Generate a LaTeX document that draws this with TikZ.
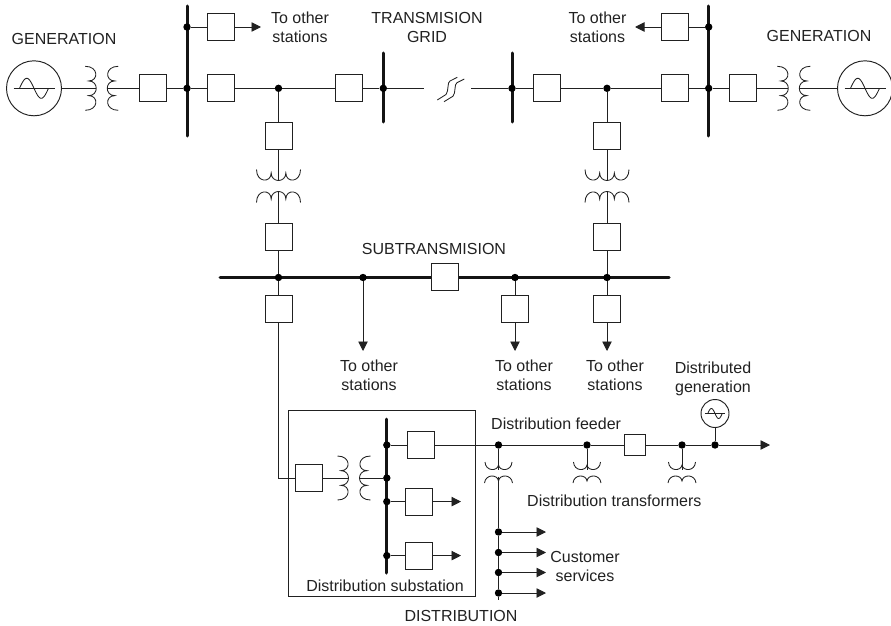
\documentclass[tikz,border=0pt]{standalone}
\usepackage{fontspec}
\setmainfont{Liberation Sans}
\usetikzlibrary{arrows.meta}
\definecolor{ink}{gray}{0.13}
\tikzset{
  x=1pt,y=-1pt,
  wire/.style={draw=ink,line width=0.95pt},
  feed/.style={wire,-{Triangle[length=9.5pt,width=9.5pt]}},
  bus/.style={draw=ink!60!black,line width=3pt,line cap=round},
  cb/.style={draw=ink,line width=0.95pt,fill=white,minimum size=27pt,inner sep=0pt},
  smallcb/.style={cb,minimum size=21pt},
  dot/.style={circle,fill=black,inner sep=0pt,minimum size=7.4pt},
  gensym/.style={circle,draw=ink,line width=0.95pt,inner sep=0pt,minimum size=55pt},
  dgsym/.style={gensym,minimum size=28pt},
  lab/.style={font=\fontsize{16}{19}\selectfont,text=ink,inner sep=0pt,align=center},
  trafo/.pic={
    \draw[draw=ink,line width=0.85pt]
      (-16.5,-22) .. controls (-3,-22) and (-3,-7.33) .. (-13,-7.33)
      .. controls (-3,-7.33) and (-3,7.33) .. (-13,7.33)
      .. controls (-3,7.33) and (-3,22) .. (-16.5,22);
    \draw[draw=ink,line width=0.85pt]
      (16.5,-22) .. controls (3,-22) and (3,-7.33) .. (13,-7.33)
      .. controls (3,-7.33) and (3,7.33) .. (13,7.33)
      .. controls (3,7.33) and (3,22) .. (16.5,22);
    \coordinate (-l) at (-5.5,0);
    \coordinate (-r) at (5.5,0);
  },
  smalltrafo/.pic={
    \draw[draw=ink,line width=0.85pt]
      (-13.5,-11) .. controls (-13,-1.5) and (-1,-1.5) .. (0,-8)
      .. controls (1,-1.5) and (13,-1.5) .. (13.5,-11);
    \draw[draw=ink,line width=0.85pt]
      (-14,10) .. controls (-13,1) and (-1,1) .. (0,8)
      .. controls (1,1) and (13,1) .. (14,10);
    \coordinate (-l) at (0,-3);
    \coordinate (-r) at (0,3.5);
  },
  sine/.pic={
    \draw[draw=ink,line width=0.85pt] (-20.5,0) -- (20.5,0);
    \draw[draw=ink,line width=0.85pt,smooth] plot[domain=-14.5:14.5,samples=41] (\x,{-10*sin((\x+14.5)*360/29)});
  },
}
\begin{document}
\begin{tikzpicture}
\useasboundingbox (0,0) rectangle (891,626);

% substation frame
\node[draw=ink,line width=0.95pt,minimum width=187pt,minimum height=186pt,inner sep=0pt] (frame) at (381.5,503) {};

% buses
\coordinate (bAt) at (187,6); \coordinate (bAb) at (187,136);
\coordinate (bBt) at (383.3,53); \coordinate (bBb) at (383.3,122);
\coordinate (bCt) at (512,53); \coordinate (bCb) at (512,122);
\coordinate (bDt) at (708.7,6); \coordinate (bDb) at (708.7,136);
\coordinate (bSl) at (220,277.5); \coordinate (bSr) at (669,277.5);
\coordinate (bTt) at (386.8,419); \coordinate (bTb) at (386.8,573);
\foreach \a/\b in {bAt/bAb,bBt/bBb,bCt/bCb,bDt/bDb,bSl/bSr,bTt/bTb}
  \draw[bus] (\a) -- (\b);

% generators
\node[gensym] (genL) at (34,88.3) {};
\node[gensym] (genR) at (865,88.3) {};
\pic at (genL) {sine};
\pic at (genR) {sine};

% transformers
\pic (tL) at (101.75,88.3) {trafo};
\pic (tR) at (793.8,88.3) {trafo};
\pic[rotate=-90] (tA) at (278.5,186) {trafo};
\pic[rotate=-90] (tB) at (607,186) {trafo};
\pic (tS) at (354,478) {trafo};
\pic (td1) at (498.5,473) {smalltrafo};
\pic (td2) at (587,473) {smalltrafo};
\pic (td3) at (682,473) {smalltrafo};

% dots
\node[dot] (dA1) at (187,27) {};
\node[dot] (dA2) at (187,88.3) {};
\node[dot] (dE) at (278.5,88.3) {};
\node[dot] (dB) at (383.3,88.3) {};
\node[dot] (dC) at (512,88.3) {};
\node[dot] (dF) at (607,88.3) {};
\node[dot] (dD1) at (708.7,27) {};
\node[dot] (dD2) at (708.7,88.3) {};
\node[dot] (dS1) at (278.5,277.5) {};
\node[dot] (dS2) at (363,277.5) {};
\node[dot] (dS3) at (515,277.5) {};
\node[dot] (dS4) at (607,277.5) {};
\node[dot] (dT1) at (386.8,445) {};
\node[dot] (dT2) at (386.8,478) {};
\node[dot] (dT3) at (386.8,501.6) {};
\node[dot] (dT4) at (386.8,555.6) {};
\node[dot] (dF1) at (498.5,445) {};
\node[dot] (dF2) at (587,445) {};
\node[dot] (dF3) at (682,445) {};
\node[dot] (dF4) at (715,445) {};
\node[dot] (dC1) at (498.5,532) {};
\node[dot] (dC2) at (498.5,552.5) {};
\node[dot] (dC3) at (498.5,572.5) {};
\node[dot] (dC4) at (498.5,593) {};

% breakers
\node[cb] (c1) at (153,88.3) {};
\node[cb] (c2) at (220.5,27) {};
\node[cb] (c3) at (221,88.3) {};
\node[cb] (c4) at (349,88.3) {};
\node[cb] (c5) at (546.5,88.3) {};
\node[cb] (c6) at (675,88.3) {};
\node[cb] (c7) at (674.5,27) {};
\node[cb] (c8) at (742.5,88.3) {};
\node[cb] (c9) at (278.5,135.5) {};
\node[cb] (c10) at (607,135.5) {};
\node[cb] (c11) at (278.5,236.5) {};
\node[cb] (c12) at (607,236.5) {};
\node[cb] (c13) at (444.5,277) {};
\node[cb] (c14) at (278.5,308.5) {};
\node[cb] (c15) at (515,309) {};
\node[cb] (c16) at (607,309) {};
\node[cb] (c17) at (308.5,478) {};
\node[cb] (c18) at (420.5,445) {};
\node[cb] (c19) at (419,501.6) {};
\node[cb] (c20) at (419,555.6) {};
\node[smallcb] (c21) at (634.5,445) {};

% small generator
\node[dgsym] (dg) at (715,413.5) {};
\pic[scale=0.5] at (dg) {sine};

% free arrow ends and break ends
\coordinate (eA) at (261,27);
\coordinate (eD) at (635,27);
\coordinate (eS2) at (363,351);
\coordinate (eS3) at (515,351);
\coordinate (eS4) at (607,351);
\coordinate (eT3) at (461,501.6);
\coordinate (eT4) at (461,555.6);
\coordinate (eF) at (770,445);
\coordinate (eC1) at (546,532);
\coordinate (eC2) at (546,552.5);
\coordinate (eC3) at (546,572.5);
\coordinate (eC4) at (546,593);
\coordinate (eC) at (498.5,600);
\coordinate (brL) at (424,88.3);
\coordinate (brR) at (471,88.3);

% connectors
\draw[wire] (genL) -- (tL-l);
\draw[wire] (tL-r) -- (c1);
\draw[wire] (c1) -- (dA2);
\draw[wire] (dA2) -- (c3);
\draw[wire] (c3) -- (dE);
\draw[wire] (dE) -- (c4);
\draw[wire] (c4) -- (dB);
\draw[wire] (dB) -- (brL);
\draw[wire] (brR) -- (dC);
\draw[wire] (dC) -- (c5);
\draw[wire] (c5) -- (dF);
\draw[wire] (dF) -- (c6);
\draw[wire] (c6) -- (dD2);
\draw[wire] (dD2) -- (c8);
\draw[wire] (c8) -- (tR-l);
\draw[wire] (tR-r) -- (genR);
\draw[wire] (dA1) -- (c2);
\draw[feed] (c2) -- (eA);
\draw[wire] (dD1) -- (c7);
\draw[feed] (c7) -- (eD);
\draw[wire] (dE) -- (c9);
\draw[wire] (c9) -- (tA-l);
\draw[wire] (dF) -- (c10);
\draw[wire] (c10) -- (tB-l);
\draw[wire] (tA-r) -- (c11);
\draw[wire] (tB-r) -- (c12);
\draw[wire] (c11) -- (dS1);
\draw[wire] (c12) -- (dS4);
\draw[wire] (dS1) -- (c14);
\draw[feed] (dS2) -- (eS2);
\draw[wire] (dS3) -- (c15);
\draw[feed] (c15) -- (eS3);
\draw[wire] (dS4) -- (c16);
\draw[feed] (c16) -- (eS4);
\draw[wire] (c14) |- (c17);
\draw[wire] (c17) -- (tS-l);
\draw[wire] (tS-r) -- (dT2);
\draw[wire] (dT1) -- (c18);
\draw[wire] (dT3) -- (c19);
\draw[wire] (dT4) -- (c20);
\draw[feed] (c19) -- (eT3);
\draw[feed] (c20) -- (eT4);
\draw[wire] (c18) -- (dF1);
\draw[wire] (dF1) -- (dF2);
\draw[wire] (dF2) -- (c21);
\draw[wire] (c21) -- (dF3);
\draw[wire] (dF3) -- (dF4);
\draw[feed] (dF4) -- (eF);
\draw[wire] (dg) -- (dF4);
\draw[wire] (dF1) -- (td1-l);
\draw[wire] (dF2) -- (td2-l);
\draw[wire] (dF3) -- (td3-l);
\draw[wire] (td1-r) -- (dC1);
\draw[wire] (dC1) -- (dC2);
\draw[wire] (dC2) -- (dC3);
\draw[wire] (dC3) -- (dC4);
\draw[wire] (dC4) -- (eC);
\draw[feed] (dC1) -- (eC1);
\draw[feed] (dC2) -- (eC2);
\draw[feed] (dC3) -- (eC3);
\draw[feed] (dC4) -- (eC4);

% line break symbol
\draw[draw=ink,line width=0.85pt] (437.3,100) -- (446,94.5) .. controls (449,91) and (447,82) .. (450,81) -- (457.3,77.3);
\draw[draw=ink,line width=0.85pt] (444,101.7) -- (453,96.2) .. controls (456,93) and (454,84) .. (457,82.7) -- (464.3,79);

% labels
\node[lab] (lGenL) at (64,39) {GENERATION};
\node[lab] (lGenR) at (819,35.5) {GENERATION};
\node[lab] (lTo1) at (300,27.5) {To other\\stations};
\node[lab] (lTo2) at (597.5,27.5) {To other\\stations};
\node[lab] (lGrid) at (427,27.5) {TRANSMISION\\GRID};
\node[lab] (lSub) at (434,249) {SUBTRANSMISION};
\node[lab] (lTo3) at (369,375.5) {To other\\stations};
\node[lab] (lTo4) at (524,375.5) {To other\\stations};
\node[lab] (lTo5) at (615,375.5) {To other\\stations};
\node[lab] (lDG) at (713,378.5) {Distributed\\generation};
\node[lab,anchor=west] (lFeed) at (491,424) {Distribution feeder};
\node[lab,anchor=west] (lTrans) at (527,501) {Distribution transformers};
\node[lab] (lCust) at (585,566.5) {Customer\\services};
\node[lab] (lSubst) at (385,585.5) {Distribution substation};
\node[lab] (lDist) at (461,616) {DISTRIBUTION};
\end{tikzpicture}
\end{document}
